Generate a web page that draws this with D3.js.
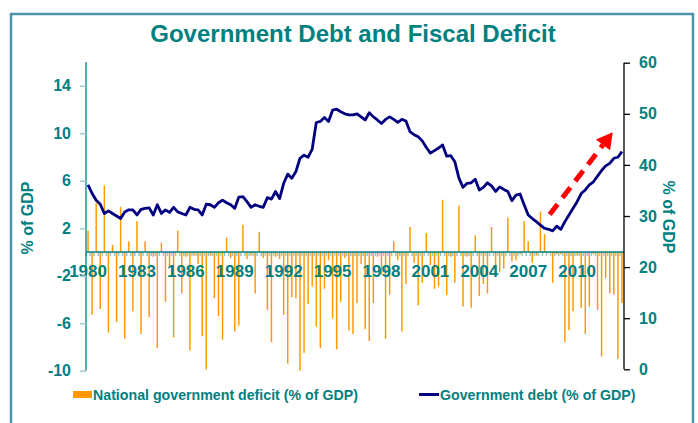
<!DOCTYPE html>
<html>
<head>
	<meta charset="utf-8">
	<script src="https://cdn.jsdelivr.net/npm/d3@7/dist/d3.min.js"></script>
	<style>
		html, body {
			padding: 0;
			margin: 0;
			background: #fff;
		}
		text {
			font-family: "Liberation Sans", Arial, sans-serif;
			font-weight: bold;
		}
	</style>
</head>
<body>
	<script>
		var width = 698, height = 423;

		// quarters 1980Q1 .. 2012Q4
		var quarters = d3.range(1980, 2013).flatMap(function(y) {
			return ["Q1", "Q2", "Q3", "Q4"].map(function(q) { return y + q; });
		});

		// national government deficit, % of GDP (quarterly)
		var deficit = [
			1.8, -5.3, 4.1, -4.8, 5.6, -6.8, 0.6, -5.9, 3.8, -7.3, 0.9, -5.0,
			2.6, -6.9, 0.9, -5.5, -0.4, -8.1, 0.8, -4.2, -1.2, -7.2, 1.8, -3.5,
			-0.4, -8.3, -0.3, -1.0, -7.1, -9.9, -0.3, -3.9, -5.4, -7.4, 1.2, -0.5,
			-6.7, -6.2, 2.3, -0.6, -0.3, -3.5, 1.7, -0.5, -4.9, -7.6, -0.4, -0.6,
			-5.3, -9.4, -3.8, -3.9, -10.0, -8.5, -4.4, -2.9, -6.3, -8.1, -3.1, -0.7,
			-5.6, -8.2, -4.2, -0.5, -6.6, -6.9, -4.3, -1.0, -6.5, -7.5, -4.3, -0.4,
			-1.9, -7.3, -3.6, 0.9, -0.7, -6.7, -2.7, 2.1, -0.9, -4.5, -2.6, 1.6,
			-1.1, -3.1, -2.9, 4.4, -3.6, -0.4, -2.6, 3.9, -4.6, -0.4, -4.7, 1.4,
			-3.7, -2.7, -3.5, 2.1, -1.8, -1.7, -1.4, 2.9, -0.8, -0.7, -0.2, 2.6,
			0.9, -0.9, -0.3, 3.4, 1.5, -0.1, -2.6, -0.2, -0.2, -7.6, -6.6, -5.0,
			-0.3, -4.7, -6.9, -4.6, -0.2, -4.9, -8.8, -2.2, -3.5, -3.6, -9.0, -4.3
		];

		// government debt, % of GDP (quarterly)
		var debt = [
			36.1, 34.4, 33.1, 32.3, 30.5, 31.0, 30.5, 30.0, 29.5, 30.8, 31.2, 31.2,
			30.2, 31.3, 31.5, 31.6, 30.2, 32.2, 30.5, 31.2, 30.7, 31.7, 30.8, 30.5,
			30.2, 31.7, 31.3, 31.2, 30.2, 32.3, 32.2, 31.7, 32.6, 33.1, 32.6, 32.2,
			31.5, 33.7, 33.8, 32.8, 31.7, 32.2, 31.9, 31.7, 33.6, 33.3, 34.8, 33.4,
			36.4, 38.2, 37.4, 38.7, 41.3, 41.9, 41.5, 43.1, 48.3, 48.5, 49.3, 48.5,
			50.7, 50.9, 50.4, 50.0, 49.8, 49.8, 50.0, 49.4, 48.8, 50.2, 49.4, 48.8,
			48.1, 48.9, 49.4, 48.9, 48.3, 48.9, 48.6, 46.5, 45.9, 45.5, 44.7, 43.4,
			42.3, 42.8, 43.3, 43.9, 41.7, 41.8, 40.6, 37.4, 35.6, 36.4, 36.5, 37.2,
			35.1, 35.6, 36.5, 35.9, 34.8, 35.7, 35.2, 34.8, 33.0, 34.1, 34.3, 32.2,
			30.2, 29.5, 28.9, 28.2, 27.6, 27.4, 27.1, 28.0, 27.4, 28.9, 30.2, 31.5,
			32.8, 34.4, 35.1, 36.1, 36.7, 37.8, 38.9, 39.8, 40.3, 41.3, 41.5, 42.6
		];

		var xLabels = ["1980", "1983", "1986", "1989", "1992", "1995", "1998", "2001", "2004", "2007", "2010"];
		var leftTicks = [-10, -6, -2, 2, 6, 10, 14];
		var rightTicks = [0, 10, 20, 30, 40, 50, 60];

		var teal = "#008080";

		var svg = d3.select("body").append("svg")
			.attr("width", width)
			.attr("height", height);

		// outer frame
		svg.append("rect")
			.attr("x", 11).attr("y", 14)
			.attr("width", 682).attr("height", 430)
			.attr("fill", "none")
			.attr("stroke", "#4b93aa")
			.attr("stroke-width", 2.5);

		svg.append("text")
			.attr("x", 353).attr("y", 42)
			.attr("text-anchor", "middle")
			.attr("fill", teal)
			.style("font-size", "24px")
			.text("Government Debt and Fiscal Deficit");

		/* scales */
		var x = d3.scaleBand()
			.domain(quarters)
			.range([86, 624])
			.paddingInner(0.64)
			.paddingOuter(0.32);
		var step = x.step();
		var cx = function(q) { return x(q) + x.bandwidth() / 2; };

		var yL = d3.scaleLinear().domain([-10, 16]).range([370.7, 62]);
		var yR = d3.scaleLinear().domain([0, 60]).range([369.3, 62.7]);

		/* bars */
		svg.append("g").selectAll("rect")
			.data(deficit)
			.join("rect")
			.attr("x", function(d, i) { return x(quarters[i]); })
			.attr("width", x.bandwidth())
			.attr("y", function(d) { return yL(Math.max(0, d)); })
			.attr("height", function(d) { return Math.abs(yL(d) - yL(0)); })
			.attr("fill", "#ff9900");

		/* category axis */
		var xg = svg.append("g");
		xg.selectAll("line.minor")
			.data(quarters)
			.join("line")
			.attr("class", "minor")
			.attr("x1", function(q) { return x(q) - x.paddingInner() * step / 2; })
			.attr("x2", function(q) { return x(q) - x.paddingInner() * step / 2; })
			.attr("y1", yL(0)).attr("y2", yL(0) + 4)
			.attr("stroke", "#9cc4c4")
			.attr("stroke-width", 1.5);
		xg.append("line")
			.attr("x1", 86).attr("x2", 624)
			.attr("y1", yL(0)).attr("y2", yL(0))
			.attr("stroke", teal)
			.attr("stroke-width", 1.5);

		var xAxis = d3.axisBottom(x)
			.tickValues(xLabels.map(function(y) { return y + "Q1"; }))
			.tickFormat(function(q) { return q.slice(0, 4); })
			.tickSize(0)
			.tickPadding(13);
		svg.append("g")
			.attr("transform", "translate(0," + yL(0) + ")")
			.call(xAxis)
			.call(function(g) { g.select(".domain").remove(); })
			.selectAll("text")
			.attr("fill", teal)
			.style("font-size", "17px");

		/* left axis */
		var leftG = svg.append("g")
			.attr("transform", "translate(86,0)")
			.call(d3.axisLeft(yL).tickValues(leftTicks).tickSize(6).tickPadding(9)
				.tickFormat(function(d) { return String(d); }));
		leftG.select(".domain").attr("stroke", teal).attr("stroke-width", 1.3).attr("d", "M0,62V370.7");
		leftG.selectAll(".tick line").attr("stroke", "#a6c9c9").attr("stroke-width", 1.5);
		leftG.selectAll(".tick text").attr("fill", teal).style("font-size", "16px");

		svg.append("text")
			.attr("transform", "translate(33,218) rotate(-90)")
			.attr("text-anchor", "middle")
			.attr("fill", teal)
			.style("font-size", "16px")
			.text("% of GDP");

		/* right axis */
		var rightG = svg.append("g")
			.attr("transform", "translate(624,0)")
			.call(d3.axisRight(yR).tickValues(rightTicks).tickSize(6).tickPadding(9));
		rightG.select(".domain").attr("stroke", "#000").attr("stroke-width", 1.3).attr("d", "M0,62.7H0V369.3");
		rightG.selectAll(".tick line").attr("stroke", "#000").attr("stroke-width", 1.3);
		rightG.selectAll(".tick text").attr("fill", teal).style("font-size", "16px");

		svg.append("text")
			.attr("transform", "translate(663,217) rotate(90)")
			.attr("text-anchor", "middle")
			.attr("fill", teal)
			.style("font-size", "16px")
			.text("% of GDP");

		/* debt line */
		var line = d3.line()
			.x(function(d, i) { return cx(quarters[i]); })
			.y(function(d) { return yR(d); });
		svg.append("path")
			.datum(debt)
			.attr("d", line)
			.attr("fill", "none")
			.attr("stroke", "#000080")
			.attr("stroke-width", 2.8)
			.attr("stroke-linejoin", "round");

		/* red dashed arrow */
		var ax0 = cx(quarters[114]) - 3, ay0 = yR(30.3);
		var ax1 = cx(quarters[128]) + 3, ay1 = yR(46.4);
		var ang = Math.atan2(ay1 - ay0, ax1 - ax0);
		var headLen = 16, headW = 9;
		var bx = ax1 - headLen * Math.cos(ang), by = ay1 - headLen * Math.sin(ang);
		svg.append("line")
			.attr("x1", ax0).attr("y1", ay0)
			.attr("x2", bx).attr("y2", by)
			.attr("stroke", "#ff0000")
			.attr("stroke-width", 5)
			.attr("stroke-dasharray", "13,8");
		svg.append("path")
			.attr("d", "M" + ax1 + "," + ay1 +
				"L" + (bx + headW * Math.sin(ang)) + "," + (by - headW * Math.cos(ang)) +
				"L" + (bx - headW * Math.sin(ang)) + "," + (by + headW * Math.cos(ang)) + "Z")
			.attr("fill", "#ff0000");

		/* legend */
		var lg = svg.append("g");
		lg.append("rect")
			.attr("x", 73).attr("y", 391)
			.attr("width", 19).attr("height", 7)
			.attr("fill", "#ff9900");
		lg.append("text")
			.attr("x", 93).attr("y", 400)
			.attr("fill", teal)
			.style("font-size", "14.2px")
			.text("National government deficit (% of GDP)");
		lg.append("line")
			.attr("x1", 419).attr("x2", 439)
			.attr("y1", 394.5).attr("y2", 394.5)
			.attr("stroke", "#000080")
			.attr("stroke-width", 3);
		lg.append("text")
			.attr("x", 440).attr("y", 400)
			.attr("fill", teal)
			.style("font-size", "14.2px")
			.text("Government debt (% of GDP)");
	</script>
</body>
</html>
